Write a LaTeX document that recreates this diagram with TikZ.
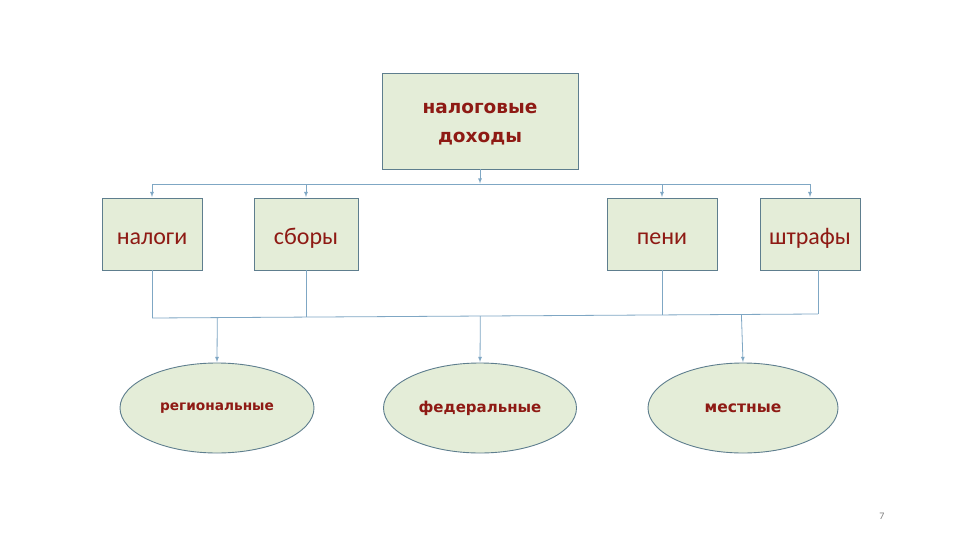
\documentclass[tikz,border=0pt]{standalone}
\usepackage{fontspec}
\setmainfont{Carlito}
\newfontfamily\boldfnt{DejaVu Sans}
\usepackage{tikz}
\usetikzlibrary{shapes,arrows,positioning,calc}
\definecolor{boxfill}{HTML}{E4EDD8}
\definecolor{boxline}{HTML}{5E7E8E}
\definecolor{txtred}{HTML}{8E1A14}
\definecolor{conn}{HTML}{7FA7C4}

\begin{document}
\begin{tikzpicture}[x=1pt,y=-1pt,>=latex,
  box/.style={draw=boxline,fill=boxfill,line width=0.9pt,text=txtred,inner sep=0pt},
  small/.style={box,minimum height=72pt,font=\fontsize{24}{28}\selectfont,
    text height=20pt,text depth=0pt},
  oval/.style={ellipse,draw=boxline,fill=boxfill,line width=0.9pt,text=txtred,inner sep=0pt},
  link/.style={draw=conn,line width=0.8pt},
  arr/.style={link,->,shorten >=0.5pt}]
\useasboundingbox[fill=white] (0,0) rectangle (960,540);
\node[box,minimum width=196pt,minimum height=96pt,
  font=\boldfnt\bfseries\fontsize{18.5}{29}\selectfont] (dohody) at (480,121)
  {\raisebox{0pt}[20pt][34pt]{\parbox[t]{190pt}{\centering налоговые\\доходы}}};
\node[small,minimum width=100pt] (nalogi) at (152,234) {налоги};
\node[small,minimum width=104pt] (sbory) at (306,234) {сборы};
\node[small,minimum width=110pt] (peni) at (662,234) {пени};
\node[small,minimum width=100pt] (shtrafy) at (810,234) {штрафы};
\node[oval,minimum width=194pt,minimum height=90pt,
  font=\boldfnt\bfseries\fontsize{13.7}{16}\selectfont] (reg) at (217,408) {региональные};
\node[oval,minimum width=193pt,minimum height=90pt,
  font=\boldfnt\bfseries\fontsize{15}{18}\selectfont] (fed) at (480,408) {федеральные};
\node[oval,minimum width=190pt,minimum height=90pt,
  font=\boldfnt\bfseries\fontsize{15.5}{19}\selectfont] (mest) at (743,408) {местные};
\node[text=gray,font=\fontsize{10}{12}\selectfont] (num) at (882,516) {7};
% upper level
\coordinate (up) at (480,184);
\draw[arr] (dohody.south) -- (up);
\foreach \b in {nalogi,sbory,peni,shtrafy}
  \draw[arr] (up) -| (\b.north);
% lower level
\coordinate (lowl) at (152,318);
\coordinate (lowr) at (818,314);
\draw[link] (lowl) -- (lowr);
\draw[link] (nalogi.south) -- (lowl);
\draw[link] (sbory.south) -- (sbory.south |- 0,317);
\draw[link] (peni.south) -- (peni.south |- 0,315);
\draw[link] (shtrafy.south -| lowr) -- (lowr);
\draw[arr] ($(lowl)!0.098!(lowr)$) -- (reg.north);
\draw[arr] ($(lowl)!0.493!(lowr)$) -- (fed.north);
\draw[arr] ($(lowl)!0.885!(lowr)$) -- (mest.north);
\end{tikzpicture}
\end{document}
